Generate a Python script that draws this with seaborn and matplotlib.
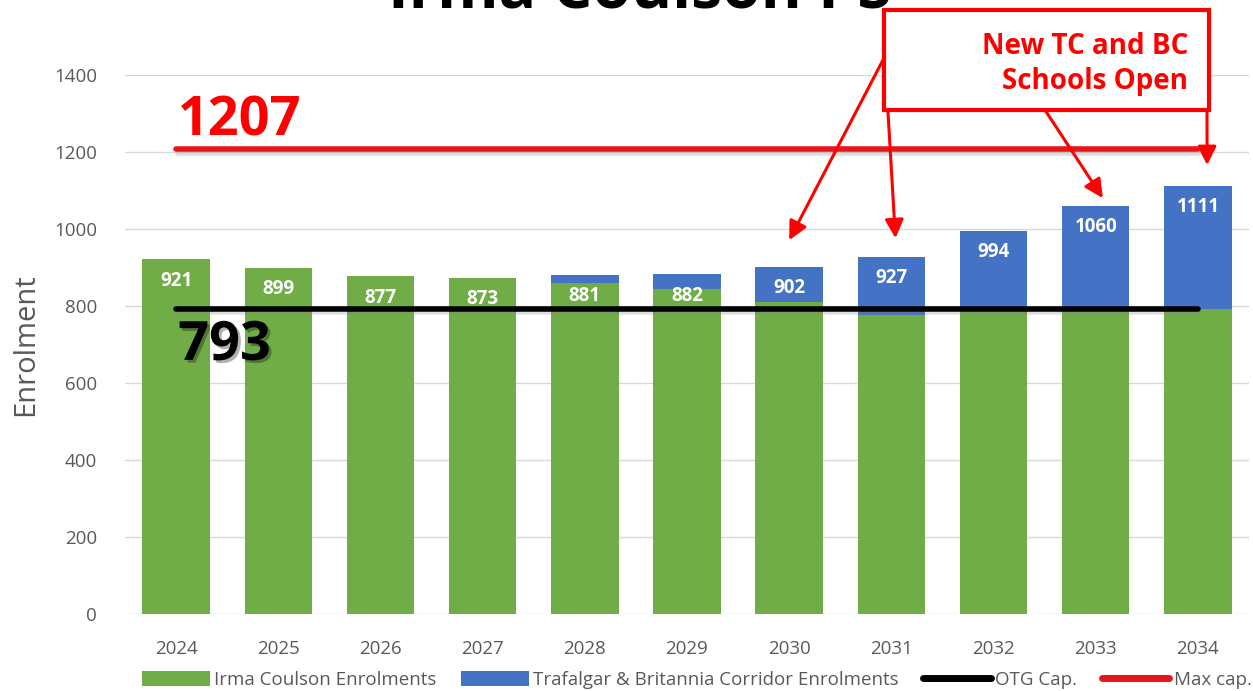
import matplotlib
matplotlib.use("Agg")
import matplotlib.pyplot as plt
import matplotlib.patheffects as pe
from matplotlib.patches import Rectangle, Patch
from matplotlib.lines import Line2D
import seaborn as sns
import numpy as np
import pandas as pd

# ---- data ----
years = ["2024", "2025", "2026", "2027", "2028", "2029", "2030", "2031", "2032", "2033", "2034"]
irma_enrol = [921, 899, 877, 873, 860, 843, 810, 777, 790, 791, 792]
total_enrol = [921, 899, 877, 873, 881, 882, 902, 927, 994, 1060, 1111]
otg_cap = [793] * 11
max_cap = [1207] * 11
yticks = [0, 200, 400, 600, 800, 1000, 1200, 1400]

GREEN = "#70AD47"
BLUE = "#4472C4"
RED = "#E8161B"
GRAY = "#595959"

sns.set_theme(style="white")
plt.rcParams["font.family"] = ["Open Sans", "DejaVu Sans"]

W, H = 1253, 691
fig = plt.figure(figsize=(W / 100, H / 100), dpi=100)
ax = fig.add_axes([125 / W, (H - 614) / H, (1249 - 125) / W, (614 - 75) / H])

df = pd.DataFrame({"year": years, "irma": irma_enrol, "total": total_enrol})

sns.barplot(data=df, x="year", y="total", color=BLUE, saturation=1, width=0.66, ax=ax,
            zorder=2, linewidth=0, edgecolor="none")
sns.barplot(data=df, x="year", y="irma", color=GREEN, saturation=1, width=0.66, ax=ax,
            zorder=3, linewidth=0, edgecolor="none")

xs = np.arange(len(years))
shadow = [pe.SimpleLineShadow(offset=(1.5, -2.5), alpha=0.25, shadow_color="gray"), pe.Normal()]
ax.plot(xs, otg_cap, color="black", lw=4, zorder=5, solid_capstyle="round", path_effects=shadow)
ax.plot(xs, max_cap, color=RED, lw=4, zorder=5, solid_capstyle="round", path_effects=shadow)

for x, t in zip(xs, total_enrol):
    ax.text(x, t - 55, f"{t}", ha="center", va="center", color="white",
            fontsize=13.5, fontweight="bold", zorder=6)

ax.set_ylim(0, 1400)
ax.set_xlim(-0.5, len(years) - 0.5)
ax.set_yticks(yticks)
ax.yaxis.grid(True, color="#D9D9D9", lw=1)
ax.set_axisbelow(True)
for s in ax.spines.values():
    s.set_visible(False)
ax.tick_params(axis="both", length=0, labelsize=13.5, labelcolor=GRAY)
ax.tick_params(axis="y", pad=20)
ax.tick_params(axis="x", pad=19)
ax.set_xlabel("")
ax.set_ylabel("Enrolment", fontsize=21, color=GRAY, labelpad=10)

# big value labels
ax.text(0.02, max_cap[0] + 37, f"{max_cap[0]}", color="red", fontsize=39,
        fontweight="bold", ha="left", va="baseline", zorder=7)
ax.text(0.02, otg_cap[0] - 133, f"{otg_cap[0]}", color="black", fontsize=39,
        fontweight="bold", ha="left", va="baseline", zorder=7,
        path_effects=[pe.SimplePatchShadow(offset=(2, -2), alpha=0.3), pe.Normal()])

# title (clipped at top, as in the original)
fig.text(640 / W, 1 - 8 / H, "Irma Coulson PS", ha="center", va="baseline",
         fontsize=45, fontweight="bold", color="black")

# annotation box
box = Rectangle((884 / W, 1 - 110 / H), 325 / W, 100 / H, transform=fig.transFigure,
                facecolor="white", edgecolor="red", lw=3, zorder=10)
fig.patches.append(box)
fig.text(1188 / W, 1 - 46 / H, "New TC and BC", ha="right", va="center",
         color="red", fontsize=20, fontweight="bold", zorder=11)
fig.text(1188 / W, 1 - 81 / H, "Schools Open", ha="right", va="center",
         color="red", fontsize=20, fontweight="bold", zorder=11)

arrow_kw = dict(arrowstyle="-|>", color="red", lw=2.2, mutation_scale=28, shrinkA=0, shrinkB=0)
arrows = [
    ((6.0, total_enrol[6] + 69), (884, H - 58)),
    ((7.04, total_enrol[7] + 49), (885, H - 62)),
    ((9.07, total_enrol[9] + 20), (1045, H - 110)),
    ((10.09, total_enrol[10] + 55), (1207, H - 110)),
]
for tip, start in arrows:
    ax.annotate("", xy=tip, xycoords="data", xytext=start, textcoords="figure pixels",
                arrowprops=arrow_kw, annotation_clip=False, zorder=9)

# legend
handles = [
    Patch(facecolor=GREEN, edgecolor="none"),
    Patch(facecolor=BLUE, edgecolor="none"),
    Line2D([0], [0], color="black", lw=5),
    Line2D([0], [0], color=RED, lw=5),
]
labels = ["Irma Coulson Enrolments", "Trafalgar & Britannia Corridor Enrolments", "OTG Cap.", "Max cap."]
fig.legend(handles, labels, loc="center", bbox_to_anchor=(697 / W, 1 - 680 / H), ncol=4,
           frameon=False, fontsize=13.5, labelcolor=GRAY, handlelength=3.6, handleheight=0.9,
           handletextpad=0.25, columnspacing=1.3, borderaxespad=0)

fig.savefig("out.png", dpi=100)
